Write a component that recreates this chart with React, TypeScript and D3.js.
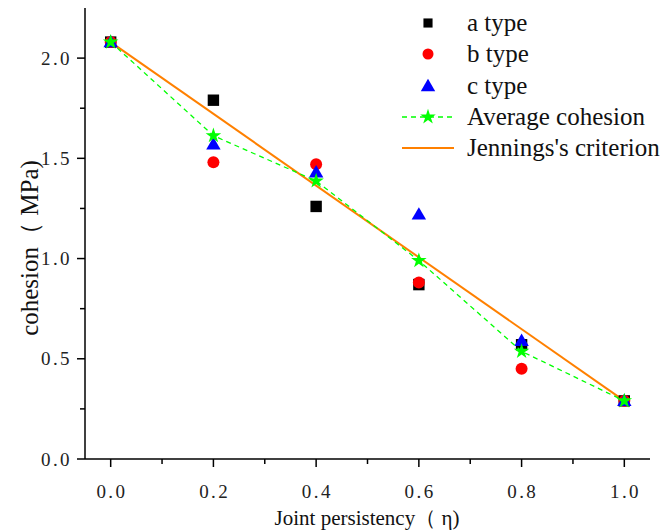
import React from "react";
import * as d3 from "d3";

const eta = [0.0, 0.2, 0.4, 0.6, 0.8, 1.0];
const aType = [2.08, 1.79, 1.26, 0.87, 0.57, 0.29];
const bType = [2.08, 1.48, 1.47, 0.88, 0.45, 0.29];
const cType = [2.08, 1.57, 1.43, 1.22, 0.59, 0.29];
const avgCohesion = [2.08, 1.613, 1.387, 0.99, 0.537, 0.29];
const jennings = [2.08, 0.29];
const jenningsEta = [0.0, 1.0];
const xTicks = [0, 0.2, 0.4, 0.6, 0.8, 1.0];
const xTickLabels = ["0.0", "0.2", "0.4", "0.6", "0.8", "1.0"];
const xMinorTicks = [0.1, 0.3, 0.5, 0.7, 0.9];
const yTicks = [0, 0.5, 1.0, 1.5, 2.0];
const yTickLabels = ["0.0", "0.5", "1.0", "1.5", "2.0"];
const yMinorTicks = [0.25, 0.75, 1.25, 1.75];
const legendLabels = ["a type", "b type", "c type", "Average cohesion", "Jennings's criterion"];
const xTitle = "Joint persistency（ η)";
const yTitle = "cohesion（ MPa)";

const W = 668;
const H = 531;
const FONT = "Liberation Serif, DejaVu Serif, serif";

export default function App() {
  const x = d3.scaleLinear().domain([-0.05, 1.05]).range([85, 650]);
  const y = d3.scaleLinear().domain([0, 2.25]).range([459, 8]);

  const avgLine = d3
    .line<number>()
    .x((_, i) => x(eta[i]))
    .y((d) => y(d))(avgCohesion) as string;
  const jLine = d3
    .line<number>()
    .x((_, i) => x(jenningsEta[i]))
    .y((d) => y(d))(jennings) as string;

  const sq = d3.symbol(d3.symbolSquare, 130)() as string;
  const tri = d3.symbol(d3.symbolTriangle, 90)() as string;
  const star = d3.symbol(d3.symbolStar, 75)() as string;

  const green = "#00ff00";
  const orange = "#ff8000";

  const legendY = [23, 54, 86, 117, 148];
  const lgX = 428;
  const lgTextX = 467;
  const ts = { fontFamily: FONT };

  return (
    <svg
      width={W}
      height={H}
      style={{ position: "absolute", left: 0, top: 0, background: "#fff", fontFamily: FONT }}
    >
      {/* Axes */}
      <line x1={85} x2={85} y1={8} y2={459} stroke="#000" strokeWidth={1.5} />
      <line x1={85} x2={650} y1={459} y2={459} stroke="#000" strokeWidth={1.5} />
      {xTicks.map((t, i) => (
        <g key={"xt" + i}>
          <line x1={x(t)} x2={x(t)} y1={459} y2={467} stroke="#000" strokeWidth={1.5} />
          <text
            x={x(t) + 1.2}
            y={498}
            textAnchor="middle"
            fontSize={19}
            letterSpacing="2.4"
            fill="#222"
            style={ts}
          >
            {xTickLabels[i]}
          </text>
        </g>
      ))}
      {xMinorTicks.map((t, i) => (
        <line key={"xm" + i} x1={x(t)} x2={x(t)} y1={459} y2={464} stroke="#000" strokeWidth={1.5} />
      ))}
      {yTicks.map((t, i) => (
        <g key={"yt" + i}>
          <line x1={77} x2={85} y1={y(t)} y2={y(t)} stroke="#000" strokeWidth={1.5} />
          <text
            x={72}
            y={y(t) + 6.5}
            textAnchor="end"
            fontSize={19}
            letterSpacing="2.4"
            fill="#222"
            style={ts}
          >
            {yTickLabels[i]}
          </text>
        </g>
      ))}
      {yMinorTicks.map((t, i) => (
        <line key={"ym" + i} x1={80} x2={85} y1={y(t)} y2={y(t)} stroke="#000" strokeWidth={1.5} />
      ))}
      <text x={367} y={525} textAnchor="middle" fontSize={21} fill="#111" style={ts}>
        {xTitle}
      </text>
      <text
        transform={`translate(38, 248) rotate(-90)`}
        textAnchor="middle"
        fontSize={25}
        fill="#111"
        style={ts}
      >
        {yTitle}
      </text>

      {/* Jennings line */}
      <path d={jLine} fill="none" stroke={orange} strokeWidth={2} />

      {/* Markers */}
      {aType.map((v, i) => (
        <path key={"a" + i} d={sq} transform={`translate(${x(eta[i])},${y(v)})`} fill="#000" />
      ))}
      {bType.map((v, i) => (
        <circle key={"b" + i} cx={x(eta[i])} cy={y(v)} r={6} fill="#ff0000" />
      ))}
      {cType.map((v, i) => (
        <path key={"c" + i} d={tri} transform={`translate(${x(eta[i])},${y(v) + 1})`} fill="#0000ff" />
      ))}

      {/* Average line */}
      <path d={avgLine} fill="none" stroke={green} strokeWidth={1.3} strokeDasharray="5,4" />
      {avgCohesion.map((v, i) => (
        <path key={"s" + i} d={star} transform={`translate(${x(eta[i])},${y(v)})`} fill={green} />
      ))}

      {/* Legend */}
      <path d={sq} transform={`translate(${lgX},${legendY[0]}) scale(0.8)`} fill="#000" />
      <circle cx={lgX} cy={legendY[1]} r={5.5} fill="#ff0000" />
      <path d={tri} transform={`translate(${lgX},${legendY[2] + 1})`} fill="#0000ff" />
      <line x1={402} x2={454} y1={legendY[3]} y2={legendY[3]} stroke={green} strokeWidth={1.3} strokeDasharray="5,4" />
      <path d={star} transform={`translate(${lgX},${legendY[3]})`} fill={green} />
      <line x1={402} x2={454} y1={legendY[4]} y2={legendY[4]} stroke={orange} strokeWidth={2} />
      {legendLabels.map((l, i) => (
        <text key={"l" + i} x={lgTextX} y={legendY[i] + 8} fontSize={25} fill="#111" style={ts}>
          {l}
        </text>
      ))}
    </svg>
  );
}
